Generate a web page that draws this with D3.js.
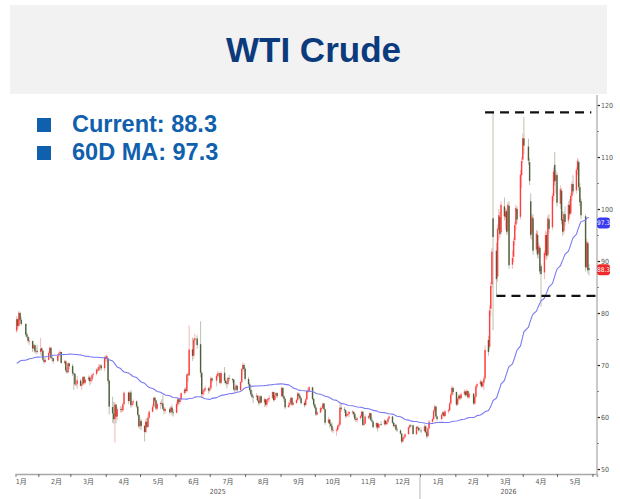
<!DOCTYPE html>
<html><head><meta charset="utf-8">
<script src="https://cdn.jsdelivr.net/npm/d3@7"></script>
<style>body{margin:0;background:#fff}svg{display:block}</style>
</head><body>
<svg id="chart" width="620" height="499"></svg>
<script>
// ---------- DATA ----------
const title = "WTI Crude";
const legendItems = ["Current: 88.3", "60D MA: 97.3"];
const yTicks = [50, 60, 70, 80, 90, 100, 110, 120];
const yMinorTicks = [55, 65, 75, 85, 95, 105, 115];
const monthStarts = ["2025-01-01","2025-02-01","2025-03-01","2025-04-01","2025-05-01","2025-06-01","2025-07-01","2025-08-01","2025-09-01","2025-10-01","2025-11-01","2025-12-01","2026-01-01","2026-02-01","2026-03-01","2026-04-01","2026-05-01","2026-06-01"];
const monthLabels = ["1月","2月","3月","4月","5月","6月","7月","8月","9月","10月","11月","12月","1月","2月","3月","4月","5月"];
const yearLabels = ["2025", "2026"];
const yearStarts = ["2025-01-12", "2026-01-01", "2026-06-05"];
const xDomain = ["2025-01-12", "2026-06-05"];
const firstTradingDay = "2025-01-13";
const holidays = ["2025-01-20","2025-02-17","2025-04-18","2025-05-26","2025-06-19","2025-07-04","2025-09-01","2025-11-27","2025-12-25","2026-01-01","2026-01-19","2026-02-16","2026-04-03","2026-05-25"];
// closes before the window (for the 60-day moving average)
const priorCloses = [70.67,69.22,70.56,72.09,70.77,70.19,71.78,67.38,67.21,68.61,69.26,
 69.49,71.47,71.99,71.69,72.36,70.38,68.04,68.12,68.43,68.70,67.02,69.16,69.39,68.87,70.10,71.24,68.94,68.77,68.72,68.00,
 68.10,69.94,68.54,68.30,67.20,68.37,68.59,70.29,70.02,71.29,70.71,70.08,70.58,69.91,69.46,69.24,70.10,69.62,70.60,70.99,71.72,
 73.13,73.96,73.56,74.25,73.32,73.92,76.57];
// [open, high, low, close]
const candles2025 = [
 [76.6,79.4,76.2,78.82],[78.8,79.0,76.9,77.50],[77.6,80.4,77.3,80.04],[80.0,80.2,78.4,78.68],[78.7,79.3,77.6,77.88],
 [77.9,78.0,75.4,75.83],[75.9,76.3,75.1,75.44],[75.4,75.6,74.2,74.62],[74.6,75.3,73.8,74.66],
 [74.6,74.7,72.5,73.17],[73.2,74.1,72.9,73.77],[73.8,74.0,72.3,72.62],[72.6,73.5,72.0,72.73],[72.7,73.9,72.2,72.53],
 [72.5,75.2,71.9,73.16],[73.2,73.4,71.7,72.70],[72.7,72.9,70.8,71.03],[71.0,71.3,70.2,70.61],[70.6,71.4,70.4,71.00],
 [71.0,72.6,70.9,72.32],[72.3,73.6,72.0,73.32],[73.3,73.4,71.2,71.37],[71.4,71.9,70.7,71.29],[71.3,71.4,70.3,70.74],
 [70.8,72.1,70.6,71.85],[71.9,72.6,71.5,72.25],[72.3,72.9,71.8,72.48],[72.5,72.5,70.3,70.40],
 [70.4,71.0,70.1,70.70],[70.7,70.9,68.6,68.93],[68.9,69.5,68.3,68.62],[68.6,70.5,68.4,70.35],[70.3,70.4,69.2,69.76],
 [69.8,70.2,67.9,68.37],[68.4,68.6,65.2,68.26],[68.3,68.4,66.0,66.31],[66.3,67.2,65.9,66.36],[66.4,67.9,65.4,67.04],
 [67.0,67.3,65.9,66.03],[66.0,66.8,65.2,66.25],[66.3,67.9,66.1,67.68],[67.7,67.9,66.2,66.55],[66.6,67.4,66.3,67.18],
 [67.2,68.0,66.9,67.58],[67.6,67.9,66.1,66.90],[66.9,67.8,66.4,67.16],[67.2,68.3,66.8,68.07],[68.1,68.6,67.6,68.28],
 [68.3,69.4,68.0,69.11],[69.1,69.6,68.7,69.00],[69.0,70.2,68.8,69.65],[69.7,70.2,69.1,69.92],[69.9,70.1,68.9,69.36],
 [69.4,71.7,68.8,71.48],
 [71.5,71.9,70.8,71.20],[71.2,72.0,70.6,71.71],[71.2,71.3,66.4,66.95],[67.0,67.2,60.5,61.99],
 [61.9,63.9,58.9,60.70],[60.7,62.9,58.7,59.58],[59.6,62.9,55.1,62.35],[62.4,62.5,58.8,60.07],[60.1,61.9,59.4,61.50],
 [61.5,62.1,60.8,61.53],[61.5,62.0,60.9,61.33],[61.3,62.8,61.0,62.47],[62.5,64.9,62.2,64.68],
 [64.7,64.9,62.5,63.08],[63.1,64.9,62.9,64.67],[64.7,65.2,61.8,62.27],[62.3,63.1,61.9,62.79],[62.8,63.4,62.3,63.02],
 [63.0,63.2,61.7,62.05],[62.0,62.3,60.1,60.42],[60.4,60.6,57.9,58.21],
 [58.2,59.9,57.6,59.24],[59.2,59.6,57.5,58.29],
 [58.3,58.4,55.3,57.13],[57.1,59.6,56.9,59.09],[59.1,59.8,57.9,58.07],[58.1,60.6,57.9,59.91],[59.9,61.3,59.6,61.02],
 [61.0,62.4,60.9,61.95],[62.0,63.9,61.8,63.67],[63.7,63.9,62.8,63.15],[63.2,63.3,61.3,61.62],[61.6,62.8,61.3,62.49],
 [62.5,63.0,61.5,62.69],[62.7,63.4,62.1,62.56],[62.6,64.2,61.4,61.57],[61.6,61.9,60.6,61.20],[61.2,61.9,60.7,61.53],
 [61.5,61.8,60.5,60.89],[60.9,62.1,60.8,61.84],[61.8,62.4,60.3,60.94],[60.9,61.5,60.1,60.79],
 [60.8,62.9,60.7,62.52],[62.5,63.8,62.0,63.41],[63.4,63.6,62.2,62.85],[62.9,63.6,62.5,63.37],[63.4,64.7,63.2,64.58],
 [64.6,65.6,64.3,65.29],[65.3,65.7,64.6,64.98],[65.0,68.4,64.7,68.15],[68.2,68.6,66.8,68.04],[68.0,77.6,68.0,72.98],
 [73.0,75.3,70.8,71.77],[71.8,75.2,71.2,74.84],[74.8,76.0,73.8,75.14],[75.1,75.7,73.1,73.84],
 [74.0,78.4,67.6,68.51],[68.5,68.8,63.7,64.37],[64.4,65.4,63.8,64.92],[64.9,65.6,64.2,65.24],[65.2,66.0,64.9,65.52],
 [65.5,65.8,64.5,65.11],
 [65.1,65.9,64.8,65.45],[65.5,67.8,65.3,67.45],[67.4,67.6,66.6,67.00],
 [67.0,68.3,65.9,67.93],[67.9,68.8,67.5,68.33],[68.3,68.7,67.6,68.38],[68.4,68.5,66.3,66.57],[66.6,68.8,66.3,68.45],
 [68.5,69.6,66.5,66.98],[67.0,67.5,66.2,66.52],[66.5,67.0,65.5,66.38],[66.4,67.7,66.0,67.54],[67.5,68.1,66.9,67.34],
 [67.3,67.5,66.6,67.20],[67.2,67.3,65.1,65.31],[65.3,65.7,64.7,65.25],[65.3,66.4,65.1,66.03],[66.0,66.2,64.9,65.16],
 [65.2,66.9,65.0,66.71],[66.7,69.4,66.6,69.21],[69.2,70.5,68.8,70.00],[70.0,70.3,68.8,69.26],
 [69.3,69.5,67.0,67.33],
 [67.3,67.7,65.7,66.29],[66.3,66.6,64.9,65.16],[65.2,66.0,64.1,64.35],[64.4,65.1,63.6,63.88],[63.9,64.2,62.7,63.88],
 [63.9,64.6,63.2,64.10],[64.1,64.2,62.9,63.17],[63.2,63.5,62.2,62.65],[62.7,64.2,62.5,63.96],[64.0,64.1,62.6,62.80],
 [62.8,63.7,61.9,63.42],[63.4,63.5,62.1,62.35],[62.4,63.4,61.9,63.21],[63.2,63.7,62.8,63.52],[63.5,64.2,62.8,63.66],
 [63.7,64.9,63.4,64.80],[64.8,64.9,62.9,63.25],[63.3,64.3,63.1,64.15],[64.2,64.8,63.7,64.60],[64.6,64.7,63.6,64.01],
 [64.0,65.9,63.8,65.59],[65.6,65.7,63.7,63.97],[64.0,64.1,62.9,63.48],[63.5,63.6,61.5,61.87],
 [61.9,62.9,61.8,62.26],[62.3,63.3,61.9,62.63],[62.6,63.9,62.5,63.67],[63.7,63.8,62.1,62.37],[62.4,63.1,62.1,62.69],
 [62.7,63.5,62.5,63.30],[63.3,64.8,63.1,64.52],[64.5,64.7,63.6,64.05],[64.1,64.2,63.2,63.57],[63.6,63.8,62.4,62.68],
 [62.7,63.0,61.9,62.28],[62.3,63.6,62.1,63.41],[63.4,65.2,63.3,64.99],[65.0,65.6,64.6,64.98],[65.0,66.0,64.8,65.72],
 [65.7,65.8,63.2,63.45],[63.5,63.6,62.0,62.37],
 [62.4,62.6,61.5,61.78],[61.8,62.0,60.2,60.48],[60.5,61.2,60.3,60.88],
 [60.9,62.0,60.7,61.69],[61.7,62.1,61.1,61.73],[61.7,62.8,61.6,62.55],[62.6,62.7,61.3,61.51],[61.5,61.6,58.5,58.90],
 [58.9,60.0,58.7,59.49],[59.5,59.6,57.9,58.70],[58.7,59.0,58.0,58.27],[58.3,58.9,57.1,57.46],[57.5,57.9,56.9,57.54],
 [57.5,57.8,56.4,57.52],[57.5,58.6,57.2,58.24],[58.2,59.0,57.8,58.50],[58.5,62.6,58.4,61.79],[61.8,62.6,61.0,61.50],
 [61.5,61.9,60.8,61.31],[61.3,61.4,59.8,60.15],[60.2,60.9,59.9,60.48],[60.5,61.0,60.1,60.57],[60.6,61.2,60.0,60.98],
 [61.0,61.3,60.5,61.05],[61.0,61.1,60.0,60.56],[60.6,60.8,59.3,59.60],[59.6,60.1,59.0,59.43],[59.4,60.0,59.0,59.75],
 [59.8,60.4,59.5,60.13],[60.1,61.2,59.9,61.04],[61.0,61.1,58.3,58.49],[58.5,59.3,58.2,58.69],[58.7,60.5,58.6,60.09],
 [60.1,60.3,59.6,59.91],[59.9,60.9,59.5,60.74],[60.7,60.8,59.2,59.44],[59.4,60.0,58.9,59.14],[59.1,59.3,57.8,58.06],
 [58.1,59.0,57.7,58.84],[58.8,58.9,57.2,57.95],[58.0,58.8,57.8,58.65],[58.6,59.2,58.3,58.55],
 [58.6,59.6,58.3,59.32],[59.3,59.4,58.4,58.64],[58.6,59.2,58.5,58.95],[59.0,59.9,58.8,59.67],[59.7,60.3,59.4,60.08],
 [60.1,60.2,58.7,58.88],[58.9,59.0,58.0,58.25],[58.3,58.8,57.9,58.46],[58.5,58.6,57.3,57.60],[57.6,58.0,57.1,57.44],
 [57.4,57.6,56.6,56.82],[56.8,56.9,54.9,55.27],[55.3,56.3,55.1,55.94],[55.9,56.6,55.6,56.15],[56.2,56.9,55.9,56.66],
 [56.7,58.2,56.6,58.01],[58.0,58.6,57.8,58.38],[58.4,58.6,58.0,58.35],[58.4,58.5,56.6,56.74],
 [56.7,58.3,56.6,58.08],[58.1,58.3,57.6,57.95],[57.9,58.1,57.2,57.42]
];
const candles2026 = [
 [57.4,58.0,56.9,57.30],
 [57.3,58.6,57.0,58.20],[58.2,58.4,56.8,57.10],[57.1,57.3,55.9,56.30],[56.3,58.1,56.1,57.80],[57.8,59.4,57.6,59.10],
 [59.1,59.9,58.8,59.60],[59.6,61.5,59.4,61.20],[61.2,62.4,60.9,62.00],[62.0,62.1,59.9,60.10],[60.1,60.3,59.2,59.60],
 [59.6,60.7,59.4,60.40],[60.4,61.2,60.1,60.90],[60.9,61.0,59.9,60.20],[60.2,61.4,60.0,61.10],
 [61.1,61.6,60.7,61.30],[61.3,62.9,61.1,62.60],[62.6,64.6,62.4,64.30],[64.3,66.0,64.0,65.60],[65.6,65.8,64.2,64.80],
 [64.8,64.9,62.1,62.40],[62.4,63.8,62.2,63.50],[63.5,64.4,63.2,64.10],[64.1,64.3,63.2,63.60],[63.6,64.7,63.4,64.40],
 [64.4,65.3,64.1,64.90],[64.9,65.1,63.9,64.20],[64.2,65.4,64.0,65.00],[65.0,65.1,63.5,63.80],[63.8,64.8,63.5,64.50],
 [64.5,64.6,62.3,62.60],[62.6,64.2,62.4,63.90],[63.9,66.2,63.7,65.90],[65.9,66.6,65.5,66.30],
 [66.3,67.2,65.9,66.80],[66.8,67.0,65.6,65.90],[65.9,66.9,65.7,66.60],[66.6,67.8,65.2,67.40],[67.4,73.8,67.2,72.90],
 [74.8,75.6,71.8,72.50],[73.5,81.5,73.0,80.50],[80.8,86.0,79.5,85.20],[85.5,92.5,84.8,91.80],[98.2,118.6,76.7,94.60],
 [92.0,93.5,83.3,86.50],[87.0,97.0,86.0,96.20],[96.0,100.0,94.0,98.80],[98.5,99.5,94.5,95.20],[95.5,101.5,95.0,100.80],
 [100.5,102.2,97.8,98.60],[98.4,100.2,96.0,99.50],[99.6,100.0,95.0,95.60],[95.8,101.3,95.2,100.80],[100.6,101.5,88.5,89.20],
 [89.3,92.0,88.5,90.60],[90.8,94.5,89.8,93.80],[94.0,97.5,93.0,96.90],[97.0,100.8,96.0,100.20],[100.0,100.5,97.2,98.00],
 [98.5,107.5,98.0,106.60],[106.5,110.0,104.0,109.20],[109.5,114.5,108.8,113.60],[113.6,117.7,110.5,112.20],
 [112.0,113.5,108.5,109.30],[109.0,109.8,104.6,105.40],[101.5,103.0,94.3,95.00],[95.3,99.0,94.0,98.50],[98.2,99.0,91.2,92.00],
 [92.2,96.0,91.5,95.30],[95.0,95.8,90.5,91.20],[91.5,93.5,90.5,92.80],[92.5,93.0,87.4,88.00],[89.0,89.5,81.2,87.50],
 [87.8,92.0,86.5,91.50],[91.2,95.8,90.5,95.00],[95.0,95.6,90.2,91.00],[91.2,98.8,90.8,98.20],[98.0,99.0,95.4,96.20],
 [96.5,103.0,96.0,102.50],[102.5,108.0,101.5,107.20],[108.5,111.0,104.5,105.30],[105.5,107.5,103.0,106.60],
 [106.5,107.0,100.5,101.20],
 [101.0,104.5,100.0,103.80],[103.5,104.0,97.0,97.80],[98.0,99.5,94.8,95.60],[95.8,99.5,95.2,99.00],[99.0,100.5,96.8,97.50],
 [97.8,101.5,97.2,100.80],[100.8,101.9,98.2,99.00],[99.2,103.0,98.8,102.50],[102.5,105.3,101.5,104.80],[104.8,106.5,102.8,103.40],
 [103.6,108.0,103.0,107.50],[107.5,109.8,106.5,109.20],[109.0,109.5,103.5,104.20],[104.2,105.0,100.5,101.30],[101.5,102.0,98.0,98.80],
 [98.6,99.0,88.0,88.80],[88.8,94.2,88.5,93.60],[93.4,93.8,87.6,88.20],[88.6,89.4,87.2,88.30]
];
const valueTags = [{label: "97.3", value: 97.3, color: "#3b3bf2"}, {label: "88.3", value: 88.3, color: "#ee2a2a"}];
const rangeLines = [
  {value: 118.6, from: "2026-02-27", to: "2026-05-31"},
  {value: 83.3, from: "2026-03-09", to: "2026-06-06"}
];
const maWindow = 60;

// ---------- BUILD ----------
const parse = d3.utcParse("%Y-%m-%d");
const fmt = d3.utcFormat("%Y-%m-%d");
const candlesAll = candles2025.concat(candles2026);
const holidaySet = new Set(holidays);
const dates = [];
let cur = parse(firstTradingDay);
while (dates.length < candlesAll.length) {
  const dow = cur.getUTCDay();
  if (dow !== 0 && dow !== 6 && !holidaySet.has(fmt(cur))) dates.push(cur);
  cur = d3.utcDay.offset(cur, 1);
}
const data = candlesAll.map((c, i) => ({date: dates[i], o: c[0], h: c[1], l: c[2], c: c[3]}));
const allCloses = priorCloses.concat(candlesAll.map(c => c[3]));
const maData = data.map((d, i) => ({date: d.date, v: d3.mean(allCloses.slice(i + priorCloses.length + 1 - maWindow, i + priorCloses.length + 1))}));

const svg = d3.select("#chart");
const x = d3.scaleUtc().domain(xDomain.map(parse)).range([15.5, 597]);
const y = d3.scaleLinear().domain([50, 120]).range([469, 105]);

// Title bar
svg.append("rect").attr("x", 10).attr("y", 5).attr("width", 597).attr("height", 89).attr("fill", "#f2f2f2");
svg.append("text").attr("x", 313.5).attr("y", 62).attr("text-anchor", "middle")
  .attr("font-family", "Liberation Sans, Arial, sans-serif").attr("font-weight", "bold")
  .attr("font-size", 35).attr("fill", "#0b3b7d").text(title);

// Axes
const axisFont = "Liberation Sans Narrow, DejaVu Sans Condensed, Noto Sans CJK SC, sans-serif";
const gx = svg.append("g").attr("transform", "translate(0,474)")
  .call(d3.axisBottom(x).tickValues(monthStarts.map(parse).filter(d => d >= x.domain()[0])).tickSize(3).tickFormat(""));
gx.select(".domain").attr("stroke", "#a8a8a8").attr("stroke-width", 1.5);
gx.selectAll(".tick line").attr("stroke", "#666");

monthLabels.forEach((lab, i) => {
  const mid = d3.utcDay.offset(parse(monthStarts[i]), 16);
  const xm = Math.max(x(mid), 21);
  svg.append("text").attr("x", xm).attr("y", 484).attr("text-anchor", "middle")
    .attr("font-family", axisFont).attr("font-size", 7).attr("fill", "#555").text(lab);
});
yearLabels.forEach((lab, i) => {
  const a = x(parse(yearStarts[i])), b = x(parse(yearStarts[i + 1]));
  svg.append("text").attr("x", (a + b) / 2).attr("y", 494).attr("text-anchor", "middle")
    .attr("font-family", axisFont).attr("font-size", 7).attr("fill", "#555").text(lab);
});
svg.append("line").attr("x1", x(parse(yearStarts[1]))).attr("x2", x(parse(yearStarts[1])))
  .attr("y1", 477).attr("y2", 499).attr("stroke", "#cfcfcf").attr("stroke-width", 1.5);

const gy = svg.append("g").attr("transform", "translate(597,0)")
  .call(d3.axisRight(y).tickValues(yTicks).tickSize(3).tickPadding(1));
gy.select(".domain").remove();
gy.selectAll(".tick line").attr("stroke", "#222").attr("stroke-width", 1.2);
gy.selectAll(".tick text").attr("font-family", axisFont).attr("font-size", 7).attr("fill", "#555");
svg.append("line").attr("x1", 597).attr("x2", 597).attr("y1", 95).attr("y2", 475)
  .attr("stroke", "#b8b8b8").attr("stroke-width", 1.5);
const gym = svg.append("g").attr("transform", "translate(597,0)")
  .call(d3.axisRight(y).tickValues(yMinorTicks).tickSize(2).tickFormat(""));
gym.select(".domain").remove();
gym.selectAll(".tick line").attr("stroke", "#888");

// Candles
const cw = 1.4;
const gc = svg.append("g");
gc.selectAll("line.wick").data(data).join("line")
  .attr("x1", d => x(d.date)).attr("x2", d => x(d.date))
  .attr("y1", d => y(d.h)).attr("y2", d => y(d.l))
  .attr("stroke", d => d.c >= d.o ? "#f5a5a5" : "#aab29c").attr("stroke-width", 0.8);
gc.selectAll("rect.body").data(data).join("rect")
  .attr("x", d => x(d.date) - cw / 2).attr("width", cw)
  .attr("y", d => y(Math.max(d.o, d.c)))
  .attr("height", d => Math.max(0.8, Math.abs(y(d.o) - y(d.c))))
  .attr("fill", d => d.c >= d.o ? "#ff3d3d" : "#4f5e3b");

// Moving average
svg.append("path").datum(maData)
  .attr("d", d3.line().x(d => x(d.date)).y(d => y(d.v)))
  .attr("fill", "none").attr("stroke", "#7a7af5").attr("stroke-width", 1.1);

// Range dashed lines
rangeLines.forEach(r => {
  svg.append("line").attr("x1", x(parse(r.from))).attr("x2", x(parse(r.to)))
    .attr("y1", y(r.value)).attr("y2", y(r.value))
    .attr("stroke", "#111").attr("stroke-width", 2.3).attr("stroke-dasharray", "9,6");
});

// Value tags
valueTags.forEach(t => {
  const yy = y(t.value);
  svg.append("rect").attr("x", 597).attr("y", yy - 5.5).attr("width", 13).attr("height", 11)
    .attr("rx", 3).attr("fill", t.color);
  svg.append("text").attr("x", 603.5).attr("y", yy + 2.3).attr("text-anchor", "middle")
    .attr("font-family", axisFont).attr("font-size", 6.5).attr("fill", "#fff").text(t.label);
});

// Legend
legendItems.forEach((lab, i) => {
  svg.append("rect").attr("x", 37).attr("y", 118 + i * 28).attr("width", 14).attr("height", 14).attr("fill", "#1060ae");
  svg.append("text").attr("x", 72).attr("y", 132 + i * 28)
    .attr("font-family", "Liberation Sans, Arial, sans-serif").attr("font-weight", "bold")
    .attr("font-size", 23.5).attr("fill", "#1060ae").text(lab);
});
</script>
</body></html>
